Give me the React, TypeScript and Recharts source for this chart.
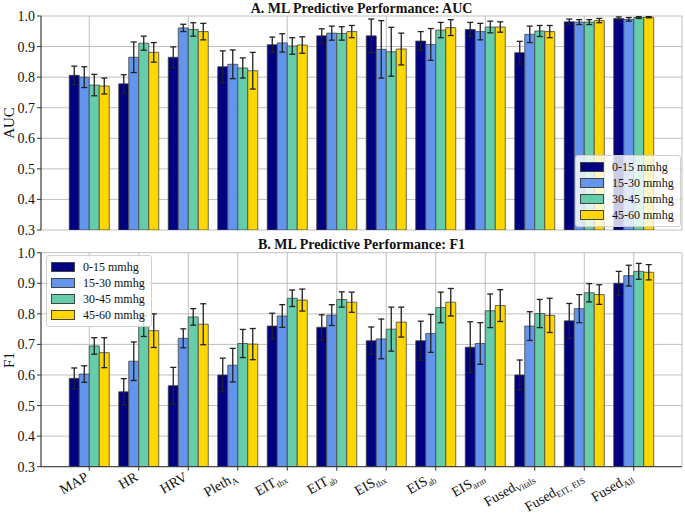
import { Bar, BarChart, CartesianGrid, ErrorBar, Legend, XAxis, YAxis } from 'recharts'

const categories = ['MAP', 'HR', 'HRV', 'Pleth_A', 'EIT_thx', 'EIT_ab', 'EIS_thx', 'EIS_ab', 'EIS_arm', 'Fused_Vitals', 'Fused_EIT, EIS', 'Fused_All']
const bands = ['0-15 mmhg', '15-30 mmhg', '30-45 mmhg', '45-60 mmhg']
const colors = ['#000080', '#6495ED', '#66CDAA', '#FFD700']
const yTicks = [0.3, 0.4, 0.5, 0.6, 0.7, 0.8, 0.9, 1.0]

// AUC means and error bar half-lengths
const auc0_15 = [0.806, 0.778, 0.865, 0.834, 0.906, 0.935, 0.935, 0.918, 0.956, 0.88, 0.981, 0.992]
const auc15_30 = [0.8, 0.865, 0.961, 0.842, 0.912, 0.944, 0.891, 0.907, 0.949, 0.94, 0.98, 0.989]
const auc30_45 = [0.774, 0.911, 0.956, 0.83, 0.902, 0.943, 0.883, 0.954, 0.964, 0.951, 0.98, 0.995]
const auc45_60 = [0.771, 0.881, 0.949, 0.821, 0.905, 0.949, 0.892, 0.962, 0.964, 0.949, 0.985, 0.996]
const aucErr0_15 = [0.03, 0.03, 0.034, 0.052, 0.025, 0.023, 0.055, 0.031, 0.023, 0.037, 0.009, 0.005]
const aucErr15_30 = [0.034, 0.05, 0.012, 0.047, 0.03, 0.023, 0.094, 0.052, 0.027, 0.027, 0.008, 0.006]
const aucErr30_45 = [0.035, 0.023, 0.022, 0.033, 0.027, 0.022, 0.08, 0.025, 0.019, 0.018, 0.008, 0.003]
const aucErr45_60 = [0.026, 0.032, 0.027, 0.06, 0.027, 0.02, 0.052, 0.026, 0.017, 0.02, 0.007, 0.002]

// F1 means and error bar half-lengths
const f1_0_15 = [0.589, 0.545, 0.565, 0.6, 0.76, 0.756, 0.712, 0.712, 0.691, 0.6, 0.777, 0.9]
const f1_15_30 = [0.603, 0.645, 0.72, 0.632, 0.793, 0.796, 0.718, 0.736, 0.703, 0.76, 0.817, 0.925]
const f1_30_45 = [0.695, 0.76, 0.79, 0.703, 0.851, 0.847, 0.75, 0.821, 0.81, 0.801, 0.869, 0.939]
const f1_45_60 = [0.673, 0.745, 0.766, 0.701, 0.845, 0.838, 0.773, 0.838, 0.827, 0.795, 0.863, 0.936]
const f1Err0_15 = [0.034, 0.043, 0.06, 0.055, 0.042, 0.041, 0.045, 0.064, 0.083, 0.049, 0.057, 0.039]
const f1Err15_30 = [0.027, 0.063, 0.031, 0.055, 0.037, 0.034, 0.065, 0.062, 0.068, 0.047, 0.046, 0.034]
const f1Err30_45 = [0.027, 0.034, 0.027, 0.046, 0.027, 0.025, 0.072, 0.05, 0.055, 0.046, 0.03, 0.026]
const f1Err45_60 = [0.049, 0.055, 0.067, 0.051, 0.036, 0.033, 0.049, 0.045, 0.052, 0.056, 0.032, 0.025]

const toRows = (means: number[][], errs: number[][]) =>
    categories.map((name, i) => ({
        name,
        v0: means[0][i], v1: means[1][i], v2: means[2][i], v3: means[3][i],
        e0: errs[0][i], e1: errs[1][i], e2: errs[2][i], e3: errs[3][i],
    }))

const aucRows = toRows([auc0_15, auc15_30, auc30_45, auc45_60], [aucErr0_15, aucErr15_30, aucErr30_45, aucErr45_60])
const f1Rows = toRows([f1_0_15, f1_15_30, f1_30_45, f1_45_60], [f1Err0_15, f1Err15_30, f1Err30_45, f1Err45_60])

const FONT = '"Liberation Serif", "Times New Roman", serif'
const AXIS = '#333'
const GRID = '#b8b8b8'

const EmptyTick = () => <g />

const CategoryTick = ({ x, y, payload }: any) => {
    const [main, sub] = String(payload.value).split('_')
    const ax = x
    const ay = y + 7
    return (
        <text
            x={ax}
            y={ay}
            textAnchor="end"
            transform={`rotate(-30, ${ax}, ${ay})`}
            fontFamily={FONT}
            fontSize={14}
            fill="#111"
        >
            {main}
            {sub && (
                <tspan fontSize={9} dy={3}>
                    {sub}
                </tspan>
            )}
        </text>
    )
}

const LegendBox = () => (
    <div
        style={{
            background: 'rgba(255,255,255,0.8)',
            border: '1px solid #d0d0d0',
            borderRadius: 3,
            padding: '3px 6px 3px 4px',
            fontFamily: FONT,
            fontSize: 12,
            color: '#111',
        }}
    >
        {bands.map((b, i) => (
            <div key={b} style={{ display: 'flex', alignItems: 'center', height: 16 }}>
                <span
                    style={{
                        display: 'inline-block',
                        width: 22,
                        height: 8,
                        background: colors[i],
                        border: '1px solid #444',
                        marginRight: 8,
                    }}
                />
                {b}
            </div>
        ))}
    </div>
)

interface PanelProps {
    rows: typeof aucRows
    height: number
    margin: { top: number; right: number; bottom: number; left: number }
    xHeight: number
    showLabels: boolean
    legendPos: { left: number; top: number }
}

const Panel = ({ rows, height, margin, xHeight, showLabels, legendPos }: PanelProps) => (
    <BarChart
        width={685}
        height={height}
        data={rows}
        margin={margin}
        barCategoryGap={4.75}
        barGap={0}
    >
        <CartesianGrid stroke={GRID} strokeWidth={0.9} />
        <XAxis
            dataKey="name"
            height={xHeight}
            padding={{ left: 23.5, right: 23.5 }}
            interval={showLabels ? 0 : 1}
            tick={showLabels ? CategoryTick : EmptyTick}
            tickLine={showLabels ? { stroke: AXIS } : false}
            tickSize={4}
            axisLine={{ stroke: AXIS }}
        />
        <XAxis xAxisId="frame" orientation="top" height={0} tick={false} tickLine={false} axisLine={{ stroke: AXIS }} />
        <YAxis
            width={41}
            domain={[0.3, 1]}
            ticks={yTicks}
            allowDataOverflow
            tickFormatter={(v: number) => v.toFixed(1)}
            tick={{ fontFamily: FONT, fontSize: 14, fill: '#111' }}
            tickSize={4}
            tickMargin={2}
            tickLine={{ stroke: AXIS }}
            axisLine={{ stroke: AXIS }}
        />
        <YAxis yAxisId="frame" orientation="right" width={0} tick={false} tickLine={false} axisLine={{ stroke: AXIS }} />
        <Legend
            layout="vertical"
            align="center"
            verticalAlign="middle"
            content={LegendBox}
            wrapperStyle={{ left: legendPos.left, top: legendPos.top, width: 'auto', height: 'auto' }}
        />
        {bands.map((b, i) => (
            <Bar
                key={b}
                dataKey={`v${i}`}
                name={b}
                fill={colors[i]}
                stroke="#444"
                strokeWidth={0.8}
                isAnimationActive={false}
            >
                <ErrorBar
                    dataKey={`e${i}`}
                    direction="y"
                    width={3}
                    stroke="#222"
                    strokeWidth={1.3}
                    isAnimationActive={false}
                />
            </Bar>
        ))}
    </BarChart>
)

const titleStyle: React.CSSProperties = {
    position: 'absolute',
    left: 41,
    width: 641,
    textAlign: 'center',
    fontFamily: FONT,
    fontWeight: 'bold',
    fontSize: 14,
    color: '#111',
    lineHeight: '14px',
}

const yLabelStyle: React.CSSProperties = {
    position: 'absolute',
    left: 9,
    fontFamily: FONT,
    fontSize: 15,
    color: '#111',
    transform: 'translate(-50%, -50%) rotate(-90deg)',
    whiteSpace: 'nowrap',
}

export default function App() {
    return (
        <div style={{ position: 'absolute', left: 0, top: 0, width: 685, height: 517, background: '#fff' }}>
            <div style={{ position: 'absolute', left: 0, top: 0 }}>
                <Panel
                    rows={aucRows}
                    height={240}
                    margin={{ top: 16, right: 3, bottom: 10, left: 0 }}
                    xHeight={0}
                    showLabels={false}
                    legendPos={{ left: 575, top: 155 }}
                />
            </div>
            <div style={{ position: 'absolute', left: 0, top: 240 }}>
                <Panel
                    rows={f1Rows}
                    height={277}
                    margin={{ top: 12.7, right: 3, bottom: 0, left: 0 }}
                    xHeight={50.3}
                    showLabels
                    legendPos={{ left: 46, top: 15 }}
                />
            </div>
            <div style={{ ...titleStyle, top: 2 }}>A. ML Predictive Performance: AUC</div>
            <div style={{ ...titleStyle, top: 238 }}>B. ML Predictive Performance: F1</div>
            <div style={{ ...yLabelStyle, top: 123 }}>AUC</div>
            <div style={{ ...yLabelStyle, top: 360 }}>F1</div>
        </div>
    )
}
